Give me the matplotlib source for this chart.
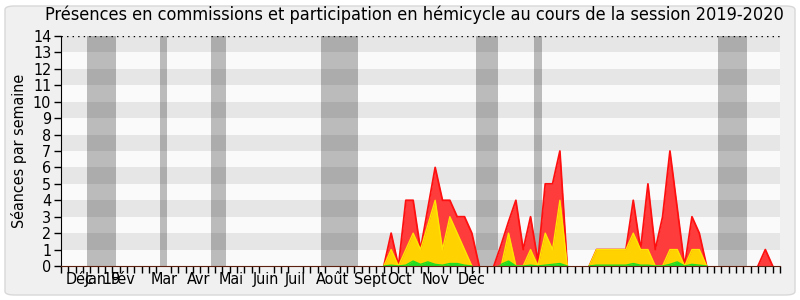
import numpy as np
import matplotlib
matplotlib.use("Agg")
import matplotlib.pyplot as plt
from matplotlib.patches import FancyBboxPatch
from matplotlib import font_manager as fm

# ---- data ----
weeks = list(range(99))
red = [0]*44 + [0, 2, 0, 4, 4, 1, 3.5, 6, 4, 4, 3, 3, 2, 0, 0, 0, 1.3, 2.7, 4, 1, 3, 0.3,
                5, 5, 7, 0, 0, 0, 0, 1, 1, 1, 1, 1, 4, 1, 5, 1, 3, 7, 3.5, 0, 3, 2, 0,
                0, 0, 0, 0, 0, 0, 0, 1, 0, 0]
yellow = [0]*44 + [0, 1, 0, 1, 2, 1, 2.5, 4, 1, 3, 2, 1, 0, 0, 0, 0, 0, 2, 0, 0, 1, 0,
                   2, 1, 4, 0, 0, 0, 0, 1, 1, 1, 1, 1, 2, 1, 1, 0, 0, 1, 1, 0, 1, 1, 0,
                   0, 0, 0, 0, 0, 0, 0, 0, 0, 0]
green = [0]*44 + [0, 0.05, 0, 0.05, 0.3, 0.1, 0.25, 0.1, 0.05, 0.15, 0.15, 0.05, 0, 0, 0, 0, 0.1, 0.3, 0, 0, 0.05, 0,
                  0.05, 0.1, 0.15, 0, 0, 0, 0, 0.05, 0.05, 0.05, 0.05, 0.05, 0.15, 0.05, 0.05, 0, 0, 0.1, 0.25, 0, 0.1, 0.05, 0,
                  0, 0, 0, 0, 0, 0, 0, 0, 0, 0]
vacations = [(3.5, 7.5), (13.5, 14.5), (20.5, 22.5), (35.5, 40.5), (56.5, 59.5), (64.5, 65.5), (89.5, 93.5)]
month_labels = ["Déc", "Jan", "19", "Fév", "Mar", "Avr", "Mai", "Juin", "Juil", "Août", "Sept", "Oct", "Nov", "Déc"]
month_pos = [2.5, 4.7, 6.9, 8.4, 14.0, 18.8, 23.2, 28.0, 32.0, 37.0, 42.1, 46.2, 51.0, 55.9]
title = "Présences en commissions et participation en hémicycle au cours de la session 2019-2020"
ylabel = "Séances par semaine"

# ---- font ----
fp = fm.FontProperties(family="DejaVu Sans", stretch="condensed")
path = fm.findfont(fp)
condensed = "Condensed" in path
scale = 1.0 if condensed else 0.9
plt.rcParams["font.family"] = ["DejaVu Sans"]
plt.rcParams["font.stretch"] = "condensed"

fig = plt.figure(figsize=(8, 3), dpi=100, facecolor="white")
bg = FancyBboxPatch((5/800, 5/300), 790/800, 289/300, boxstyle="round,pad=0,rounding_size=0.012",
                    transform=fig.transFigure, facecolor="#f0f0f0", edgecolor="#d8d8d8", lw=1, zorder=-10)
fig.patches.append(bg)

ax = fig.add_axes([61/800, 34/300, 719/800, 230/300])
ax.set_zorder(1)
ax.set_facecolor("#fafafa")
x = np.array(weeks)
r = np.array(red, float)
yv = np.array(yellow, float)
g = np.array(green, float)

for k in range(14):
    if k % 2 == 1:
        ax.axhspan(k, k+1, color="#e6e6e6", lw=0, zorder=0)
for a, b in vacations:
    ax.axvspan(a, b, color="black", alpha=0.25, lw=0, zorder=1)

rmask = (r == 0) & (np.roll(r, 1) == 0) & (np.roll(r, -1) == 0)
ax.fill_between(x, r, color="#ff3c3c", lw=0, zorder=2)
ax.plot(x, np.ma.masked_where(rmask, r), color="#ff1010", lw=1.3, zorder=3)
ax.fill_between(x, yv, color="#ffd200", lw=0, zorder=4)
mask = (yv == 0) & (np.roll(yv, 1) == 0) & (np.roll(yv, -1) == 0)
ax.plot(x, np.ma.masked_where(mask, yv), color="#ffe600", lw=1.0, zorder=5)
ax.fill_between(x, g, color="#22dd22", lw=0, zorder=6)
ax.plot(x, np.ma.masked_where(mask, g), color="#22dd22", lw=1.0, zorder=6)

ax.axhline(14, color="black", ls=(0, (1, 3)), lw=1, zorder=7)

ax.set_xlim(0, 98)
ax.set_ylim(0, 14)
ax.set_yticks(range(15))
ax.set_yticklabels([str(i) for i in range(15)], fontsize=11.5*scale)
ax.set_xticks(weeks, minor=True)
ax.set_xticks(month_pos)
ax.set_xticklabels(month_labels, fontsize=11.5*scale)
ax.tick_params(axis="x", which="major", length=0, pad=4)
ax.tick_params(axis="x", which="minor", length=5, width=1, direction="out")
ax.tick_params(axis="y", length=5, width=1, pad=2)
for s in ["top", "right"]:
    ax.spines[s].set_visible(False)
ax.spines["left"].set_color("black")
ax.spines["bottom"].set_color("#5a2010")
ax.spines["bottom"].set_zorder(8)

ax.set_ylabel(ylabel, fontsize=11.5*scale, labelpad=4)
fig.text(0.5175, 0.95, title, ha="center", va="center", fontsize=13*scale)

fig.savefig("out.png", dpi=100, facecolor=fig.get_facecolor())
